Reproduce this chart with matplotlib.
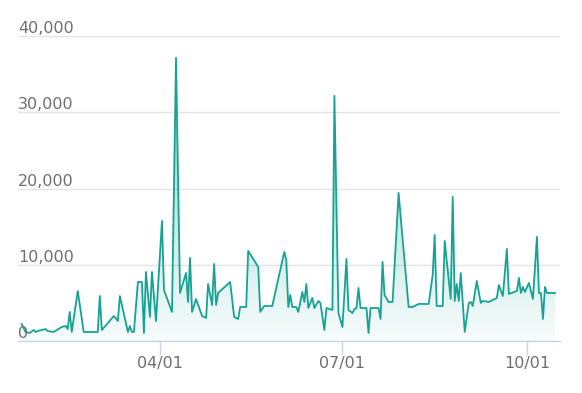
import numpy as np
import pandas as pd
import matplotlib
matplotlib.use("Agg")
import matplotlib.pyplot as plt
import matplotlib.dates as mdates
import matplotlib.transforms as mtransforms
from matplotlib.colors import to_rgb

# daily values (irregular days)
dates = [
    "2023-01-22", "2023-01-24", "2023-01-26", "2023-01-28", "2023-01-29", "2023-01-30",
    "2023-02-03", "2023-02-04", "2023-02-07", "2023-02-11", "2023-02-13", "2023-02-14",
    "2023-02-15", "2023-02-16", "2023-02-19", "2023-02-22",
    "2023-03-01", "2023-03-02", "2023-03-03", "2023-03-09", "2023-03-11", "2023-03-12",
    "2023-03-16", "2023-03-17", "2023-03-18", "2023-03-19", "2023-03-21", "2023-03-23",
    "2023-03-24", "2023-03-25", "2023-03-27", "2023-03-28", "2023-03-30",
    "2023-04-02", "2023-04-03", "2023-04-07", "2023-04-09", "2023-04-11", "2023-04-14",
    "2023-04-15", "2023-04-16", "2023-04-17", "2023-04-19", "2023-04-22", "2023-04-24",
    "2023-04-25", "2023-04-27", "2023-04-28", "2023-04-29", "2023-04-30",
    "2023-05-06", "2023-05-08", "2023-05-10", "2023-05-11", "2023-05-14", "2023-05-15",
    "2023-05-20", "2023-05-21", "2023-05-23", "2023-05-27",
    "2023-06-02", "2023-06-03", "2023-06-04", "2023-06-05", "2023-06-06", "2023-06-08",
    "2023-06-09", "2023-06-11", "2023-06-12", "2023-06-13", "2023-06-14", "2023-06-16",
    "2023-06-17", "2023-06-19", "2023-06-20", "2023-06-22", "2023-06-23", "2023-06-26",
    "2023-06-27", "2023-06-29",
    "2023-07-01", "2023-07-03", "2023-07-04", "2023-07-06", "2023-07-07", "2023-07-08",
    "2023-07-09", "2023-07-10", "2023-07-13", "2023-07-14", "2023-07-15", "2023-07-19",
    "2023-07-20", "2023-07-21", "2023-07-22", "2023-07-24", "2023-07-26", "2023-07-29",
    "2023-08-03", "2023-08-05", "2023-08-08", "2023-08-13", "2023-08-15", "2023-08-16",
    "2023-08-17", "2023-08-20", "2023-08-21", "2023-08-24", "2023-08-25", "2023-08-26",
    "2023-08-27", "2023-08-28", "2023-08-29", "2023-08-31",
    "2023-09-02", "2023-09-03", "2023-09-04", "2023-09-06", "2023-09-08", "2023-09-09",
    "2023-09-12", "2023-09-16", "2023-09-17", "2023-09-19", "2023-09-21", "2023-09-22",
    "2023-09-26", "2023-09-27", "2023-09-28", "2023-09-29", "2023-09-30",
    "2023-10-02", "2023-10-04", "2023-10-06", "2023-10-07", "2023-10-08", "2023-10-09",
    "2023-10-10", "2023-10-11", "2023-10-15",
]
values = [
    2230, 1180, 1050, 1440, 1180, 1310,
    1570, 1310, 1180, 1840, 1970, 1570, 3810, 1180, 6560, 1180,
    1180, 5900, 1440, 3280, 2620, 5900, 1180, 1970, 1180, 1180, 7740, 7740,
    1050, 9060, 3150, 9060, 2620,
    15750, 6690, 3810, 37140, 6300, 8920, 5120, 10890, 3810, 5510, 3280, 3020,
    7480, 4720, 10100, 4720, 6300,
    7740, 3150, 2890, 4460, 4460, 11810, 9710, 3810, 4590, 4590,
    11680, 10630, 4460, 6040, 4460, 4460, 3810, 6430, 5120, 7480, 4330, 5640,
    4330, 5250, 4990, 1440, 4330, 4070, 32150, 3670,
    1840, 10760, 4070, 3670, 4200, 4330, 6960, 4330, 4330, 1050, 4330, 4330,
    2890, 10370, 6040, 5120, 5120, 19420,
    4460, 4460, 4860, 4860, 8660, 13910, 4590, 4590, 13120, 5510, 18900, 5250,
    7480, 5250, 8920, 1180,
    4990, 5120, 4590, 7870, 4990, 5250, 5120, 5640, 7350, 5900, 12070, 6170,
    6560, 8270, 6300, 7090, 6430,
    7610, 5510, 13650, 6300, 6300, 2890, 7090, 6300, 6300,
]
tick_dates = ["2023-04-01", "2023-07-01", "2023-10-01"]
y_ticks = [0, 10000, 20000, 30000, 40000]

line_color = "#16a394"
text_color = "#6e6e6e"

x = mdates.date2num(pd.to_datetime(dates))
y = np.array(values, dtype=float)

fig = plt.figure(figsize=(5.82, 3.93), dpi=100)
ax = fig.add_axes([18 / 582, 52 / 393, 542 / 582, 305 / 393])

x_left = mdates.date2num(pd.Timestamp("2023-04-01")) - 70.8
x_right = mdates.date2num(pd.Timestamp("2023-04-01")) + 199.5
ax.set_xlim(x_left, x_right)
ax.set_ylim(0, 40000)

# gradient area under the line
poly = ax.fill_between(x, y, 0, facecolor="none", edgecolor="none")
rgb = to_rgb(line_color)
grad = np.zeros((256, 1, 4))
grad[:, 0, :3] = rgb
grad[:, 0, 3] = np.linspace(0.04, 0.5, 256)
img = ax.imshow(grad, aspect="auto", origin="lower",
                extent=[x.min(), x.max(), 0, y.max()], zorder=2)
img.set_clip_path(poly.get_paths()[0], transform=ax.transData)

ax.plot(x, y, color=line_color, linewidth=1.3, zorder=3)

# grid lines and y labels sitting above them
for v in y_ticks[1:]:
    ax.axhline(v, color="#e3e3e3", linewidth=1, zorder=1)
label_tf = mtransforms.offset_copy(ax.get_yaxis_transform(), fig=fig, x=0, y=3, units="dots")
for v in y_ticks:
    ax.text(0, v, f"{v:,}", transform=label_tf, ha="left", va="baseline",
            fontsize=11.5, color=text_color, zorder=4)

for s in ["top", "right", "left"]:
    ax.spines[s].set_visible(False)
ax.spines["bottom"].set_color("#c9d3e6")
ax.spines["bottom"].set_linewidth(1)

ax.set_yticks([])
ax.set_xticks(mdates.date2num(pd.to_datetime(tick_dates)))
ax.xaxis.set_major_formatter(mdates.DateFormatter("%m/%d"))
ax.tick_params(axis="x", length=10, width=1, color="#c9d3e6",
               labelsize=11.5, labelcolor=text_color, pad=1)

fig.savefig("out.png", dpi=100)
